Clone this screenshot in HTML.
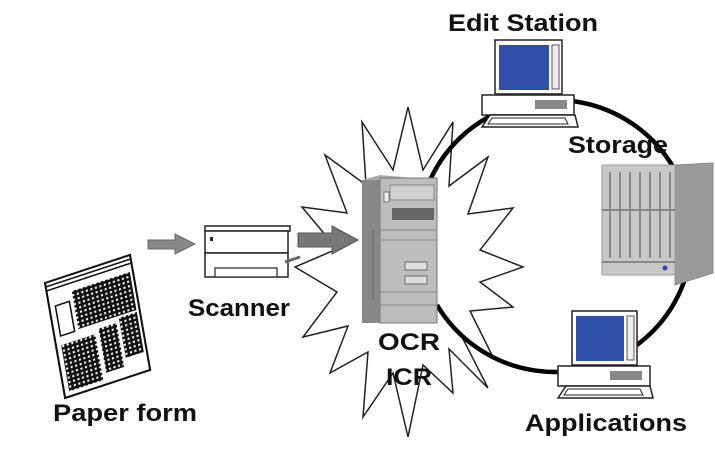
<!DOCTYPE html>
<html><head><style>
html,body{margin:0;padding:0;background:#fff;}
svg{display:block;}
text{font-family:"Liberation Sans",Arial,sans-serif;font-weight:bold;fill:#111;}
</style></head><body>
<svg width="715" height="450" viewBox="0 0 715 450" xmlns="http://www.w3.org/2000/svg">
<defs>
<pattern id="grid" width="4.5" height="4.5" patternUnits="userSpaceOnUse">
<rect width="4.5" height="4.5" fill="#111"/><rect x="1.3" y="1.3" width="2" height="2" fill="#fff"/>
</pattern>
</defs>
<!-- star -->
<polygon fill="#fff" stroke="#222" stroke-width="1.5" points="408,107 423,170 453,122 449,186 488,157 468,214 513,208 480,250 523,267 480,282 513,307 470,311 493,357 462,337 488,388 449,349 453,393 423,365 408,437 393,373 363,417 368,352 330,373 348,326 303,337 337,292 295,267 337,249 302,207 347,213 325,155 366,185 362,122 393,170"/>
<!-- circle -->
<path d="M 428,185 A 137 136 0 1 1 437,305" fill="none" stroke="#000" stroke-width="4.5"/>
<!-- server tower -->
<polygon points="362,180 380,175 437,180 437,323 380,323 362,318" fill="#a8a8a8"/>
<rect x="362" y="180" width="18" height="143" fill="#888"/>
<rect x="380" y="178" width="57" height="145" fill="#bdbdbd" stroke="#777" stroke-width="1"/>
<rect x="390" y="185" width="44" height="15" fill="#d0d0d0" stroke="#888"/>
<rect x="392" y="208" width="42" height="12" fill="#666"/>
<rect x="384" y="192" width="5" height="10" fill="#eee" stroke="#777"/>
<line x1="380" y1="230" x2="437" y2="230" stroke="#888"/>
<line x1="380" y1="240" x2="437" y2="240" stroke="#888"/>
<rect x="405" y="262" width="22" height="8" fill="#ddd" stroke="#666"/>
<rect x="405" y="276" width="22" height="8" fill="#ddd" stroke="#666"/>
<line x1="380" y1="292" x2="437" y2="292" stroke="#888"/>
<line x1="380" y1="305" x2="437" y2="305" stroke="#888"/>
<line x1="373" y1="230" x2="373" y2="300" stroke="#666"/>
<!-- big arrow -->
<polygon points="298,233 332,233 332,226 358,240 332,254 332,247 298,247" fill="#777" stroke="#555"/>
<!-- small arrow -->
<polygon points="148,240 175,240 175,234 195,244 175,254 175,249 148,249" fill="#888" stroke="#666"/>
<!-- scanner -->
<rect x="205" y="226" width="85" height="5" fill="#fff" stroke="#222" stroke-width="1.5"/>
<rect x="205" y="231" width="83" height="22" fill="#fff" stroke="#222" stroke-width="1.5"/>
<rect x="210" y="237" width="3" height="4" fill="#222"/>
<rect x="205" y="253" width="83" height="24" fill="#fff" stroke="#222" stroke-width="1.5"/>
<rect x="215" y="268" width="62" height="9" fill="#fff" stroke="#222" stroke-width="1.2"/>
<line x1="285" y1="262" x2="300" y2="257" stroke="#666" stroke-width="3"/>
<!-- paper form -->
<g transform="matrix(1,-0.33,0.175,1,45,283)">
<rect x="0" y="0" width="85" height="115" fill="#fff" stroke="#111" stroke-width="2"/>
<line x1="0" y1="4" x2="85" y2="4" stroke="#111" stroke-width="1.5"/>
<line x1="0" y1="8" x2="85" y2="8" stroke="#111" stroke-width="1.5"/>
<rect x="24" y="16" width="58" height="38" fill="url(#grid)"/>
<rect x="6" y="25" width="14" height="30" fill="none" stroke="#111" stroke-width="1.5"/>
<rect x="5" y="64" width="34" height="46" fill="url(#grid)"/>
<rect x="43" y="60" width="18" height="44" fill="url(#grid)"/>
<rect x="64" y="56" width="18" height="40" fill="url(#grid)"/>
</g>
<!-- edit station -->
<rect x="495" y="40" width="67" height="54" fill="#fff" stroke="#222" stroke-width="1.5"/>
<rect x="499" y="45" width="50" height="45" fill="#2f4fa8"/>
<rect x="552" y="45" width="7" height="44" fill="#eee" stroke="#555"/>
<rect x="482" y="95" width="92" height="20" fill="#fff" stroke="#222" stroke-width="1.5"/>
<rect x="535" y="100" width="32" height="9" fill="#888"/>
<polygon points="490,115 575,115 578,127 482,127" fill="#fff" stroke="#222" stroke-width="1.5"/>
<polygon points="492,118 565,118 568,124 488,124" fill="#fff" stroke="#222"/>
<!-- storage -->
<polygon points="675,165 713,163 713,273 675,285" fill="#9a9a9a" stroke="#888"/>
<rect x="602" y="165" width="73" height="110" fill="#c8c8c8" stroke="#999"/>
<g stroke="#888" stroke-width="2">
<line x1="610" y1="172" x2="610" y2="258"/><line x1="620" y1="172" x2="620" y2="258"/>
<line x1="630" y1="172" x2="630" y2="258"/><line x1="640" y1="172" x2="640" y2="258"/>
<line x1="650" y1="172" x2="650" y2="258"/><line x1="660" y1="172" x2="660" y2="258"/>
<line x1="670" y1="172" x2="670" y2="258"/>
<line x1="602" y1="210" x2="675" y2="210"/><line x1="602" y1="262" x2="675" y2="262"/>
</g>
<circle cx="665" cy="268" r="2.5" fill="#3344aa"/>
<!-- applications -->
<rect x="572" y="311" width="65" height="54" fill="#fff" stroke="#222" stroke-width="1.5"/>
<rect x="576" y="316" width="48" height="45" fill="#2f4fa8"/>
<rect x="627" y="316" width="7" height="44" fill="#eee" stroke="#555"/>
<rect x="558" y="366" width="92" height="20" fill="#fff" stroke="#222" stroke-width="1.5"/>
<rect x="610" y="371" width="32" height="9" fill="#888"/>
<polygon points="566,386 650,386 653,398 558,398" fill="#fff" stroke="#222" stroke-width="1.5"/>
<polygon points="568,389 640,389 643,395 564,395" fill="#fff" stroke="#222"/>
<!-- labels -->
<text x="448" y="31" font-size="24" textLength="150" lengthAdjust="spacingAndGlyphs">Edit Station</text>
<text x="568" y="153" font-size="24" textLength="100" lengthAdjust="spacingAndGlyphs">Storage</text>
<text x="378" y="350" font-size="24" textLength="62" lengthAdjust="spacingAndGlyphs">OCR</text>
<text x="386" y="385" font-size="24" textLength="46" lengthAdjust="spacingAndGlyphs">ICR</text>
<text x="525" y="431" font-size="24" textLength="162" lengthAdjust="spacingAndGlyphs">Applications</text>
<text x="188" y="316" font-size="24" textLength="102" lengthAdjust="spacingAndGlyphs">Scanner</text>
<text x="53" y="421" font-size="24" textLength="144" lengthAdjust="spacingAndGlyphs">Paper form</text>
</svg>
</body></html>
